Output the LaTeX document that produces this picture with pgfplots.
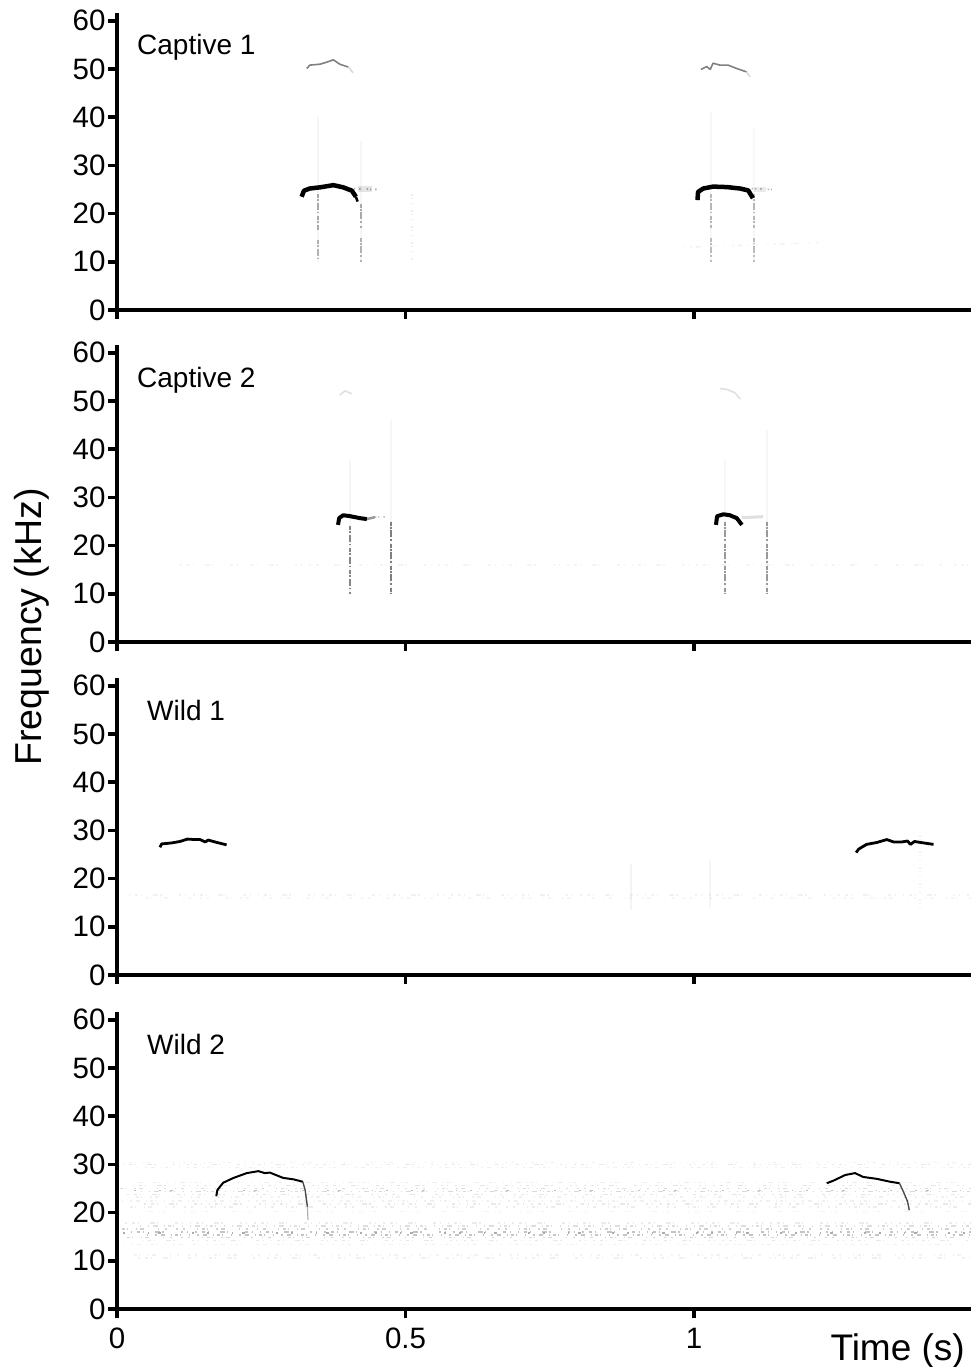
\documentclass[border=0pt]{standalone}
\usepackage{fontspec}
\setmainfont{Liberation Sans}
\usepackage{pgfplots}
\pgfplotsset{compat=1.18}
\definecolor{streak}{gray}{0.3}
\tikzset{
  n1/.style={dash pattern=on 1.5pt off 5pt on 3pt off 3pt on 1pt off 11pt on 5pt off 2pt on 1.5pt off 17pt on 2.5pt off 4pt on 1pt off 7pt},
  n2/.style={dash pattern=on 3pt off 2pt on 1pt off 8pt on 1.5pt off 3pt on 4pt off 14pt on 1pt off 6pt on 2pt off 9pt on 1.5pt off 5pt on 2.5pt off 12pt on 1pt off 4pt},
  n3/.style={dash pattern=on 1pt off 7pt on 1.5pt off 4pt on 4.5pt off 6pt on 1pt off 3pt on 3pt off 2pt on 1pt off 8pt},
  n4/.style={dash pattern=on 2pt off 23pt on 1.5pt off 9pt on 3pt off 31pt on 1.5pt off 13pt},
  mott/.style={dash pattern=on 4pt off 1pt on 2pt off 1.5pt on 7pt off 2pt on 1.5pt off 3pt},
  fade/.style={dash pattern=on 1.5pt off 2pt on 1pt off 4pt on 1.5pt off 6pt},
}
\pgfplotsset{
  panel/.style={
    scale only axis, width=854pt, height=297.4pt, anchor=south west,
    xmin=0, xmax=1.48, ymin=0, ymax=61.7,
    axis lines=left,
    axis line style={-, line width=4pt, black},
    xtick={0,0.5,1}, ytick={0,10,20,30,40,50,60},
    tick style={line width=3.5pt, black},
    major tick length=9pt, tick align=outside,
    xtick pos=bottom, ytick pos=left,
    /pgf/number format/assume math mode=true,
    tick label style={font=\fontsize{29.5}{31}\selectfont},
    yticklabel style={xshift=1pt},
    xticklabels={},
    clip=true,
  },
  main/.style={black, line width=#1, line join=round, line cap=butt, forget plot},
  harm/.style={black!#1, line width=1.6pt, line join=round, forget plot},
  st/.style={streak, line width=2pt, opacity=#1, forget plot},
  noise/.style 2 args={gray!#1, line width=1.5pt, #2, forget plot},
}
\newcommand{\nz}[4]{\addplot[noise={#3}{#4}] coordinates {(#1,#2) (1.48,#2)};}
\begin{document}
\begin{tikzpicture}
\path[use as bounding box] (0,0) rectangle (973pt,-1367pt);

% ---------- Captive 1
\begin{axis}[panel, at={(117pt,-310pt)}]
\addplot[black,opacity=0.30,line width=2pt,fade,forget plot] coordinates {(0.405,25.2) (0.450,25.0)};
\addplot[black,opacity=0.10,line width=6pt,forget plot] coordinates {(0.417,25.0) (0.442,25.0)};
\addplot[black,opacity=0.30,line width=1.6pt,fade,forget plot] coordinates {(1.100,25.2) (1.135,25.0)};
\addplot[black,opacity=0.08,line width=5pt,forget plot] coordinates {(1.104,25.0) (1.125,25.0)};
\addplot[st=0.05] coordinates {(0.349,40) (0.349,10)};
\addplot[st=0.45,mott] coordinates {(0.349,24) (0.349,16.5)};
\addplot[st=0.40,mott] coordinates {(0.349,14.5) (0.349,10)};
\addplot[st=0.05] coordinates {(0.422,35) (0.422,10)};
\addplot[st=0.45,mott] coordinates {(0.422,22) (0.422,17)};
\addplot[st=0.40,mott] coordinates {(0.422,15) (0.422,10)};
\addplot[st=0.10,fade] coordinates {(0.511,24) (0.511,10)};
\addplot[main=4.5pt] coordinates {(0.320,23.5) (0.324,24.75) (0.334,25.2) (0.352,25.45) (0.375,25.9) (0.392,25.45) (0.407,24.75) (0.414,23.5)};
\addplot[main=2.5pt] coordinates {(0.414,23.5) (0.417,22.5)};
\addplot[harm=50] coordinates {(0.329,50.1) (0.334,50.8) (0.352,51.0) (0.363,51.4) (0.375,51.9) (0.386,51.0) (0.401,50.4)};
\addplot[harm=15] coordinates {(0.401,50.4) (0.409,49.2)};
\addplot[st=0.04] coordinates {(1.029,41) (1.029,10)};
\addplot[st=0.38,mott] coordinates {(1.029,24) (1.029,17)};
\addplot[st=0.35,mott] coordinates {(1.029,15) (1.029,10)};
\addplot[st=0.04] coordinates {(1.104,38) (1.104,10)};
\addplot[st=0.38,mott] coordinates {(1.104,24) (1.104,17)};
\addplot[st=0.35,mott] coordinates {(1.104,15) (1.104,10)};
\addplot[main=4.5pt] coordinates {(1.006,22.8) (1.007,24.5) (1.016,25.2) (1.033,25.6) (1.057,25.5) (1.080,25.2) (1.094,24.8) (1.102,23.2)};
\addplot[harm=50] coordinates {(1.012,49.9) (1.022,50.5) (1.028,49.9) (1.033,51.2) (1.045,50.8) (1.059,50.8) (1.074,50.1) (1.091,49.4)};
\addplot[harm=15] coordinates {(1.091,49.4) (1.097,48.4)};
\addplot[noise={12}{n3}] coordinates {(0.98,13) (1.22,14)};
\end{axis}

% ---------- Captive 2
\begin{axis}[panel, at={(117pt,-642pt)}]
\nz{0.11}{16}{9}{n1}
\addplot[st=0.05] coordinates {(0.404,38) (0.404,10)};
\addplot[st=0.65,mott] coordinates {(0.404,24) (0.404,10)};
\addplot[st=0.05] coordinates {(0.475,46) (0.475,10)};
\addplot[st=0.70,mott] coordinates {(0.475,25) (0.475,10)};
\addplot[black,opacity=0.25,line width=1.6pt,fade,forget plot] coordinates {(0.447,25.9) (0.473,26)};
\addplot[main=4pt] coordinates {(0.383,24.3) (0.385,25.7) (0.392,26.3) (0.404,26.1) (0.421,25.7) (0.433,25.5)};
\addplot[black,opacity=0.4,line width=2.5pt,forget plot] coordinates {(0.433,25.5) (0.447,25.9)};
\addplot[harm=12] coordinates {(0.386,51.2) (0.395,52.1) (0.407,51.5)};
\addplot[st=0.04] coordinates {(1.053,38) (1.053,10)};
\addplot[st=0.55,mott] coordinates {(1.053,25) (1.053,10)};
\addplot[st=0.05] coordinates {(1.127,44) (1.127,10)};
\addplot[st=0.55,mott] coordinates {(1.127,25) (1.127,10)};
\addplot[black,opacity=0.12,line width=3pt,forget plot] coordinates {(1.083,25.8) (1.120,26)};
\addplot[main=4pt] coordinates {(1.038,24.3) (1.040,26.1) (1.051,26.5) (1.062,26.3) (1.074,25.7) (1.083,24.3)};
\addplot[harm=12] coordinates {(1.045,52.6) (1.057,52.4) (1.071,51.7) (1.080,50.4)};
\end{axis}

% ---------- Wild 1
\begin{axis}[panel, at={(117pt,-975pt)}]
\nz{0.02}{16.6}{11}{n1}
\nz{0.05}{16.0}{8}{n2}
\addplot[st=0.06] coordinates {(0.890,23) (0.890,13.5)};
\addplot[st=0.05] coordinates {(1.027,24) (1.027,14)};
\addplot[st=0.08,fade] coordinates {(1.392,29) (1.392,13)};
\addplot[main=2.8pt] coordinates {(0.0745,26.5) (0.0775,27.2) (0.0948,27.4) (0.109,27.7) (0.122,28.2) (0.135,28.1) (0.144,28.1) (0.153,27.6) (0.158,28.0) (0.173,27.5) (0.190,27.0)};
\addplot[main=2.8pt] coordinates {(1.281,25.4) (1.285,26.1) (1.299,27.1) (1.317,27.5) (1.334,28.1) (1.346,27.6) (1.360,27.6) (1.370,27.8) (1.375,27.1) (1.382,27.7) (1.398,27.4) (1.415,27.1)};
\end{axis}

% ---------- Wild 2
\begin{axis}[panel, at={(117pt,-1309pt)}]
\nz{0.02}{30.4}{10}{n2}
\nz{0.01}{30.0}{18}{n1}
\nz{0.035}{29.4}{12}{n3}
\nz{0.013}{26.2}{14}{n3}
\nz{0.027}{25.6}{20}{n1}
\nz{0.006}{25.0}{26}{n2}
\nz{0.041}{24.4}{30}{n3}
\nz{0.018}{23.8}{20}{n1}
\nz{0.033}{23.2}{12}{n2}
\nz{0.009}{22.4}{12}{n3}
\nz{0.047}{21.8}{17}{n1}
\nz{0.022}{21.2}{14}{n2}
\nz{0.031}{20.2}{9}{n3}
\nz{0.014}{17.8}{16}{n1}
\nz{0.039}{17.2}{26}{n3}
\nz{0.008}{16.6}{36}{n2}
\nz{0.024}{16.0}{46}{n1}
\nz{0.052}{15.4}{46}{n3}
\nz{0.017}{14.8}{34}{n2}
\nz{0.043}{14.2}{18}{n1}
\nz{0.011}{13.4}{12}{n3}
\nz{0.029}{11.2}{10}{n2}
\nz{0.037}{10.6}{12}{n1}
\nz{0.01}{15.8}{65}{n4}
\nz{0.03}{24.6}{50}{n4}
\addplot[main=2pt] coordinates {(0.172,23.4) (0.174,24.7) (0.184,26.2) (0.202,27.2) (0.225,28.2) (0.245,28.6) (0.256,28.2) (0.265,28.3) (0.288,27.2) (0.306,26.9) (0.322,26.4)};
\addplot[black!70,line width=1.4pt,line join=round,forget plot] coordinates {(0.322,26.4) (0.326,24.7) (0.330,21.2)};
\addplot[black!30,line width=1.2pt,forget plot] coordinates {(0.330,21.2) (0.331,18.5)};
\addplot[main=2pt] coordinates {(1.230,26.1) (1.241,26.6) (1.262,27.8) (1.279,28.2) (1.293,27.4) (1.317,27.0) (1.340,26.4) (1.356,26.1)};
\addplot[black!70,line width=1.4pt,line join=round,forget plot] coordinates {(1.356,26.1) (1.363,24.3) (1.370,22.3) (1.373,20.5)};
\end{axis}
% x tick labels of the last panel
\begin{axis}[panel, at={(117pt,-1309pt)}, hide y axis, axis line style={draw=none}, tick style={draw=none},
  xticklabels={0,0.5,1}, xticklabel style={yshift=-6pt, text height=21pt, text depth=0pt}]
\addplot[draw=none,forget plot] coordinates {(0,0) (1,1)};
\end{axis}

\node[inner sep=0pt,anchor=base west,font=\fontsize{28}{30}\selectfont] at (137pt,-55pt) {Captive 1};
\node[inner sep=0pt,anchor=base west,font=\fontsize{28}{30}\selectfont] at (137pt,-387pt) {Captive 2};
\node[inner sep=0pt,anchor=base west,font=\fontsize{28}{30}\selectfont] at (147pt,-720pt) {Wild 1};
\node[inner sep=0pt,anchor=base west,font=\fontsize{28}{30}\selectfont] at (147pt,-1054pt) {Wild 2};
\node[rotate=90,font=\fontsize{37.5}{39}\selectfont] at (32pt,-627pt) {Frequency (kHz)};
\node[inner sep=0pt,anchor=base east,font=\fontsize{37}{39}\selectfont] at (965pt,-1360pt) {Time (s)};
\end{tikzpicture}
\end{document}
